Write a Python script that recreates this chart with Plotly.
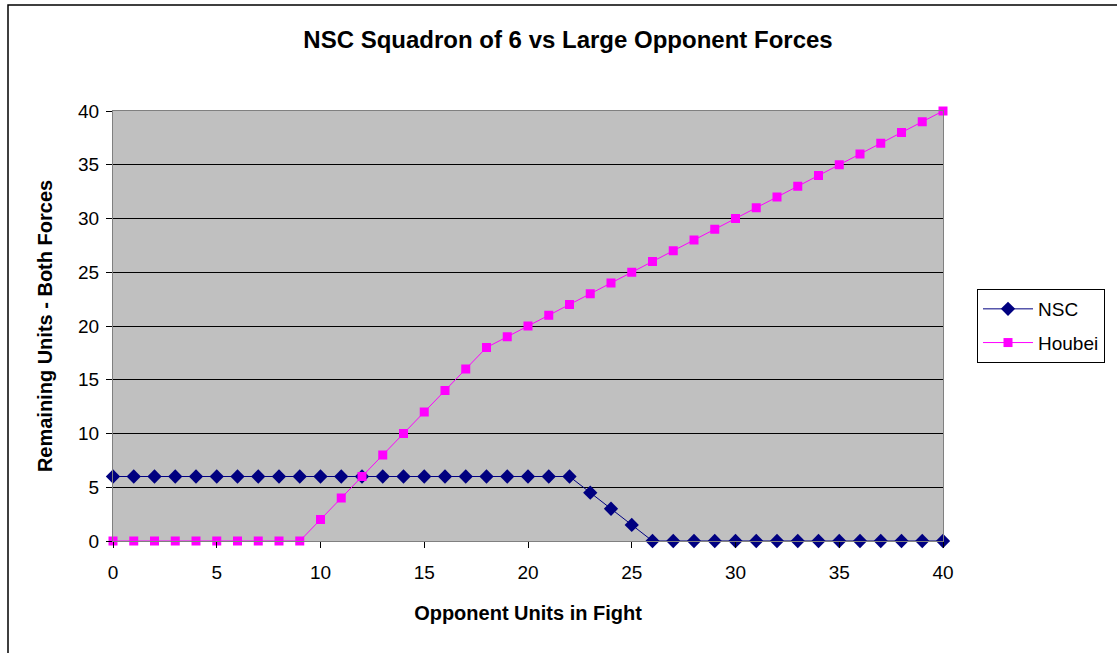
import plotly.graph_objects as go

opponent_units = list(range(0, 41))
nsc = [6]*23 + [4.5, 3, 1.5] + [0]*15
houbei = [0]*10 + [2, 4, 6, 8, 10, 12, 14, 16] + list(range(18, 41))

L, R, T, B = 113, 943, 111, 541
W, H = 1117, 653
pw, ph = R - L, B - T

fig = go.Figure()
fig.add_trace(go.Scatter(
    x=opponent_units, y=nsc, name="NSC", mode="lines+markers", legendgroup="a",
    line=dict(color="#000080", width=1),
    marker=dict(symbol="diamond", size=11, color="#000080"),
    cliponaxis=False))
fig.add_trace(go.Scatter(
    x=opponent_units, y=houbei, name="Houbei", mode="lines+markers", legendgroup="b",
    line=dict(color="#FF00FF", width=1),
    marker=dict(symbol="square", size=9, color="#FF00FF"),
    cliponaxis=False))

font = "Arial, Liberation Sans, sans-serif"
fig.update_layout(
    width=W, height=H,
    margin=dict(l=L, r=W - R, t=T, b=H - B),
    paper_bgcolor="white", plot_bgcolor="#C0C0C0",
    font=dict(family=font, size=19, color="black"),
    title=dict(text="<b>NSC Squadron of 6 vs Large Opponent Forces</b>",
               x=568 / W, xanchor="center", y=1 - 40 / H, yanchor="middle",
               font=dict(size=24, family=font)),
    xaxis=dict(range=[0, 40], tickvals=list(range(0, 41, 5)),
               showgrid=False, zeroline=False,
               ticks="outside", ticklen=6, tickcolor="black", ticklabelstandoff=8,
               showline=True, linecolor="#808080", linewidth=1, mirror=True,
               title=dict(text="<b>Opponent Units in Fight</b>", font=dict(size=20), standoff=24)),
    yaxis=dict(range=[0, 40], tickvals=list(range(0, 41, 5)),
               showgrid=True, gridcolor="black", gridwidth=1, zeroline=False,
               ticks="outside", ticklen=6, tickcolor="black", ticklabelstandoff=3,
               showline=True, linecolor="#808080", linewidth=1, mirror=True,
               title=dict(text="<b>Remaining Units - Both Forces</b>", font=dict(size=20), standoff=20)),
    legend=dict(x=(977 - L) / pw, xanchor="left", y=(B - 289) / ph, yanchor="top",
                bordercolor="black", borderwidth=1, bgcolor="white",
                font=dict(size=19), traceorder="grouped", tracegroupgap=6,
                itemwidth=50),
    showlegend=True,
)
fig.add_shape(type="rect", xref="paper", yref="paper",
              x0=(8 - L) / pw, x1=(1140 - L) / pw,
              y0=(B - 680) / ph, y1=(B - 5) / ph,
              line=dict(color="black", width=1.5), layer="below")
fig.write_html("out.html", config={"displayModeBar": False},
               post_script="document.body.style.margin='0';")
